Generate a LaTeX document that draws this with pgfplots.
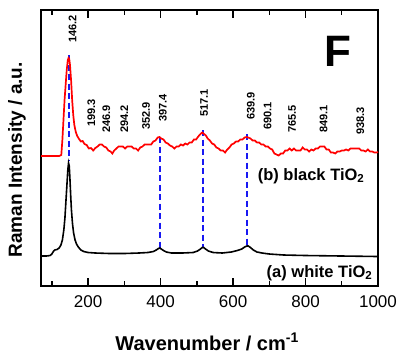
\documentclass[border=0pt]{standalone}
\usepackage{fontspec}
\setmainfont{Liberation Sans}
\usepackage{pgfplots}
\pgfplotsset{compat=1.18}
\definecolor{dashblue}{rgb}{0.1,0.1,0.95}
\begin{document}
\begin{tikzpicture}
\begin{axis}[
  scale only axis, width=337pt, height=276pt,
  xmin=70, xmax=1000, ymin=10, ymax=286, y dir=reverse,
  axis line style={line width=1.6pt},
  xtick={200,400,600,800,1000},
  minor xtick={100,300,500,700,900},
  ytick=\empty,
  tick align=inside, xtick pos=both,
  major tick length=8pt, minor tick length=5pt,
  every tick/.style={line width=1.4pt, black},
  /pgf/number format/assume math mode=true,
  /pgf/number format/1000 sep={},
  tick label style={font=\fontsize{17}{20}\selectfont},
  xticklabel style={yshift=-6pt},
  xlabel={\textbf{Wavenumber / cm\textsuperscript{-1}}},
  xlabel style={at={(axis description cs:0.493,-0.232)}, anchor=base, font=\fontsize{20}{24}\selectfont},
  ylabel={\textbf{Raman Intensity / a.u.}},
  ylabel style={at={(axis description cs:-0.071,0.457)}, anchor=center, rotate=0, font=\fontsize{19}{23}\selectfont},
  clip=false,
]
% blue dashed reference lines
\addplot[dashblue, line width=1.9pt, dash pattern=on 6pt off 3.5pt] coordinates {(146.2,55) (146.2,160)};
\addplot[dashblue, line width=1.9pt, dash pattern=on 6pt off 3.5pt] coordinates {(397.4,137) (397.4,248)};
\addplot[dashblue, line width=1.9pt, dash pattern=on 6pt off 3.5pt] coordinates {(517.1,130) (517.1,247)};
\addplot[dashblue, line width=1.9pt, dash pattern=on 6pt off 3.5pt] coordinates {(638.6,134) (638.6,246)};
% (a) white TiO2
\addplot[black, line width=1.6pt] coordinates {
(70,256) (85,256) (95,255.5) (100,254) (104,251.5) (108,250) (114,249.5) (120,248)
(125,245) (129,240) (133,230) (136,218) (139,200) (142,182) (144,170) (146,163)
(148,166) (150,180) (152,196) (154,210) (157,224) (160,233) (164,240) (168,244)
(173,247) (180,250) (188,251.5) (200,252.5) (220,253) (260,253.5) (300,253.5)
(340,253) (365,252.5) (380,251.5) (388,250) (394,248.5) (398,248) (402,249)
(408,250.5) (416,252) (430,253) (460,253) (490,252.5) (502,251) (510,249)
(515,247.5) (519,247.5) (524,249) (532,251) (545,252.5) (570,253) (595,252)
(612,250.5) (624,249) (632,247) (638,246) (642,246) (648,247.5) (656,250)
(666,252) (680,253) (700,254) (740,255) (800,255.5) (900,256) (1000,256.5)
};
% (b) black TiO2
\addplot[red, line width=1.7pt] coordinates {
(70,156) (80,156) (90,156) (100,156) (110,156) (120,156) (126,155) (129,140)
(132,120) (135,100) (138,85) (141,70) (144,60) (146,58) (148,59) (150,65)
(153,80) (156,100) (159,115) (162,125) (166,132) (170,136) (175,139) (180,141.5)
(185,141) (190,144) (196,145) (202,148.5) (208,148) (214,150.5) (220,148) (226,146.5)
(232,144.5) (238,144.5) (244,146.5) (250,147.5) (256,150.5) (262,151.5) (267,153.5) (272,150.5)
(278,148.5) (284,146.5) (290,146.5) (296,146.5) (302,148.5) (308,146.5) (314,146.5) (320,146.5)
(326,148.5) (332,148.5) (338,150.5) (344,147.5) (350,146.5) (356,144.5) (362,144.5) (368,144.5)
(374,144.5) (380,141.5) (386,140.5) (392,137.5) (397,137) (402,138.5) (408,139.5) (414,142.5)
(420,143.5) (426,145.5) (432,146.5) (438,148.5) (444,146.5) (450,146.5) (456,144.5) (462,145.5)
(468,143.5) (474,144.5) (480,142.5) (486,142.5) (492,139.5) (498,139.5) (504,136.5) (510,134)
(515,132.5) (520,134) (525,135.5) (530,138.5) (536,140.5) (542,143.5) (548,144.5) (554,147.5)
(560,148.5) (566,150.5) (572,150.5) (578,152.5) (584,149.5) (590,147.5) (596,144.5) (602,143.5)
(608,141.5) (614,141.5) (620,139.5) (626,139.5) (632,137.5) (637,137) (642,137.5) (648,138.5)
(654,140.5) (660,140.5) (666,142.5) (672,142.5) (678,144.5) (684,144.5) (690,146.5) (696,146.5)
(702,148.5) (708,149.5) (714,153.5) (720,154.5) (726,155.5) (732,153.5) (738,153.5) (744,150.5)
(750,150.5) (756,148.5) (762,150.5) (768,148.5) (774,150.5) (780,150.5) (786,150.5) (792,147.5)
(798,149.5) (804,149.5) (810,151.5) (816,149.5) (822,150.5) (828,148.5) (834,148.5) (840,146.5)
(846,146.5) (852,146.5) (858,149.5) (864,149.5) (870,152.5) (876,152.5) (882,153.5) (888,151.5)
(894,151.5) (900,150.5) (906,150.5) (912,149.5) (918,150.5) (924,148.5) (930,148.5) (936,148.5)
(942,148.5) (948,148.5) (954,150.5) (960,150.5) (966,151.5) (972,149.5) (978,151.5) (984,151.5)
(990,152.5) (996,152.5) (1000,152)
};
% peak labels
\begin{scope}[every node/.style={rotate=90, anchor=west, inner sep=0pt, font=\fontsize{11}{13}\selectfont\bfseries}]
\node at (axis cs:157,43) {146.2};
\node at (axis cs:209,127) {199.3};
\node at (axis cs:250,133) {246.9};
\node at (axis cs:300,133) {294.2};
\node at (axis cs:360,130) {352.9};
\node at (axis cs:406,122) {397.4};
\node at (axis cs:520,117) {517.1};
\node at (axis cs:649,120) {639.9};
\node at (axis cs:695,130) {690.1};
\node at (axis cs:763,133) {765.5};
\node at (axis cs:850,133) {849.1};
\node at (axis cs:951,135) {938.3};
\end{scope}
\node[font=\fontsize{44}{50}\selectfont\bfseries, inner sep=0pt] at (axis cs:889,51) {F};
\node[anchor=base east, inner sep=0pt, font=\fontsize{16.5}{19}\selectfont\bfseries] at (axis cs:963,180) {(b) black TiO\textsubscript{2}};
\node[anchor=base east, inner sep=0pt, font=\fontsize{16.5}{19}\selectfont\bfseries] at (axis cs:985,277) {(a) white TiO\textsubscript{2}};
\end{axis}
\pgfresetboundingbox
\useasboundingbox ([shift={(-41pt,-70pt)}]current axis.south west) rectangle ([shift={(25pt,10pt)}]current axis.north east);
\end{tikzpicture}
\end{document}
